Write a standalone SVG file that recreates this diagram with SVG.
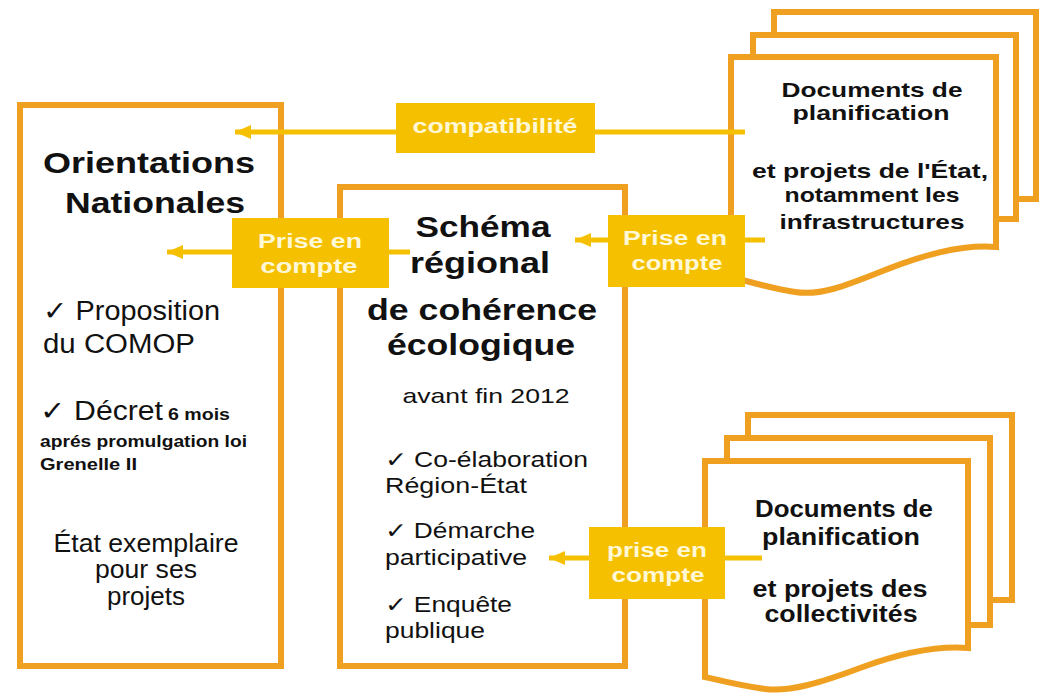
<svg xmlns="http://www.w3.org/2000/svg" width="1053" height="693" viewBox="0 0 1053 693">
<defs>
<style>
.box{fill:#ffffff;stroke:#F0A020;stroke-width:6}
.page{fill:#ffffff;stroke:#F0A020;stroke-width:6;stroke-linejoin:miter}
.conn{stroke:#F5C000;stroke-width:5;fill:none}
.lbl{fill:#F5C000}
.lt{font-family:"Liberation Sans",Arial,sans-serif;font-weight:bold;font-size:20px;fill:#FFF8D6;text-anchor:middle}
.t{font-family:"Liberation Sans",Arial,sans-serif;fill:#111111}
.b{font-weight:bold}
.m{text-anchor:middle}
</style>
<marker id="ah" markerUnits="userSpaceOnUse" markerWidth="18" markerHeight="14" refX="16" refY="7" orient="auto">
<path d="M0,0 L16,7 L0,14 Z" fill="#F5C000"/>
</marker>
</defs>
<rect width="1053" height="693" fill="#ffffff"/>

<g id="orientations">
<rect class="box" x="20" y="105" width="261" height="561"/>
<text class="t b m" x="149" y="173" font-size="30" textLength="212" lengthAdjust="spacingAndGlyphs">Orientations</text>
<text class="t b m" x="155" y="213" font-size="30" textLength="180" lengthAdjust="spacingAndGlyphs">Nationales</text>
<text class="t" x="43" y="320" font-size="27" textLength="177" lengthAdjust="spacingAndGlyphs">✓ Proposition</text>
<text class="t" x="43" y="353" font-size="27" textLength="152" lengthAdjust="spacingAndGlyphs">du COMOP</text>
<text class="t" x="40" y="420" font-size="27" textLength="123" lengthAdjust="spacingAndGlyphs">✓ Décret</text>
<text class="t b" x="168" y="420" font-size="17" textLength="62" lengthAdjust="spacingAndGlyphs">6 mois</text>
<text class="t b" x="40" y="447" font-size="17" textLength="207" lengthAdjust="spacingAndGlyphs">aprés promulgation loi</text>
<text class="t b" x="40" y="470" font-size="17" textLength="97" lengthAdjust="spacingAndGlyphs">Grenelle II</text>
<text class="t m" x="146" y="552" font-size="25" textLength="185" lengthAdjust="spacingAndGlyphs">État exemplaire</text>
<text class="t m" x="146" y="578" font-size="25" textLength="102" lengthAdjust="spacingAndGlyphs">pour ses</text>
<text class="t m" x="146" y="605" font-size="25" textLength="78" lengthAdjust="spacingAndGlyphs">projets</text>
</g>

<g id="srce">
<rect class="box" x="340" y="187" width="285" height="479"/>
<text class="t b m" x="483" y="237" font-size="30" textLength="135" lengthAdjust="spacingAndGlyphs">Schéma</text>
<text class="t b m" x="480" y="273" font-size="30" textLength="140" lengthAdjust="spacingAndGlyphs">régional</text>
<text class="t b m" x="482" y="320" font-size="30" textLength="230" lengthAdjust="spacingAndGlyphs">de cohérence</text>
<text class="t b m" x="481" y="355" font-size="30" textLength="188" lengthAdjust="spacingAndGlyphs">écologique</text>
<text class="t m" x="486" y="403" font-size="21" textLength="167" lengthAdjust="spacingAndGlyphs">avant fin 2012</text>
<text class="t" x="385" y="467" font-size="22" textLength="203" lengthAdjust="spacingAndGlyphs">✓ Co-élaboration</text>
<text class="t" x="385" y="493" font-size="22" textLength="142" lengthAdjust="spacingAndGlyphs">Région-État</text>
<text class="t" x="385" y="538" font-size="22" textLength="150" lengthAdjust="spacingAndGlyphs">✓ Démarche</text>
<text class="t" x="385" y="565" font-size="22" textLength="142" lengthAdjust="spacingAndGlyphs">participative</text>
<text class="t" x="385" y="612" font-size="22" textLength="127" lengthAdjust="spacingAndGlyphs">✓ Enquête</text>
<text class="t" x="385" y="638" font-size="22" textLength="100" lengthAdjust="spacingAndGlyphs">publique</text>
</g>

<g id="docs-etat">
<rect class="page" x="774" y="12" width="262" height="187"/>
<rect class="page" x="753" y="35" width="263" height="184"/>
<path class="page" d="M731,57 H996 V247 C960,244 920,256 880,272 C845,286 820,296 795,292 C770,288 750,282 731,277 Z"/>
<text class="t b m" x="872" y="97" font-size="21" textLength="181" lengthAdjust="spacingAndGlyphs">Documents de</text>
<text class="t b m" x="871" y="120" font-size="21" textLength="157" lengthAdjust="spacingAndGlyphs">planification</text>
<text class="t b m" x="870" y="178" font-size="21" textLength="236" lengthAdjust="spacingAndGlyphs">et projets de l'État,</text>
<text class="t b m" x="872" y="202" font-size="21" textLength="175" lengthAdjust="spacingAndGlyphs">notamment les</text>
<text class="t b m" x="872" y="229" font-size="21" textLength="185" lengthAdjust="spacingAndGlyphs">infrastructures</text>
</g>

<g id="docs-collectivites">
<rect class="page" x="748" y="415" width="264" height="185"/>
<rect class="page" x="727" y="438" width="263" height="187"/>
<path class="page" d="M705,461 H968 V648 C932,645 895,655 860,668 C820,683 790,692 765,689 C742,686 722,681 705,677 Z"/>
<text class="t b m" x="844" y="517" font-size="23" textLength="178" lengthAdjust="spacingAndGlyphs">Documents de</text>
<text class="t b m" x="841" y="545" font-size="23" textLength="158" lengthAdjust="spacingAndGlyphs">planification</text>
<text class="t b m" x="840" y="597" font-size="23" textLength="175" lengthAdjust="spacingAndGlyphs">et projets des</text>
<text class="t b m" x="841" y="622" font-size="23" textLength="153" lengthAdjust="spacingAndGlyphs">collectivités</text>
</g>

<g id="connectors">
<line class="conn" x1="745" y1="132" x2="235" y2="132" marker-end="url(#ah)"/>
<line class="conn" x1="410" y1="252" x2="167" y2="252" marker-end="url(#ah)"/>
<line class="conn" x1="765" y1="240" x2="575" y2="240" marker-end="url(#ah)"/>
<line class="conn" x1="762" y1="558" x2="549" y2="558" marker-end="url(#ah)"/>
</g>

<g id="label-compatibilite">
<rect class="lbl" x="396" y="103" width="199" height="50"/>
<text class="lt" x="495" y="133" textLength="165" lengthAdjust="spacingAndGlyphs">compatibilité</text>
</g>
<g id="label-prise-gauche">
<rect class="lbl" x="232" y="218" width="157" height="70"/>
<text class="lt" x="310" y="248" textLength="104" lengthAdjust="spacingAndGlyphs">Prise en</text>
<text class="lt" x="309" y="273" textLength="97" lengthAdjust="spacingAndGlyphs">compte</text>
</g>
<g id="label-prise-droite">
<rect class="lbl" x="608" y="215" width="137" height="72"/>
<text class="lt" x="675" y="245" textLength="104" lengthAdjust="spacingAndGlyphs">Prise en</text>
<text class="lt" x="677" y="270" textLength="91" lengthAdjust="spacingAndGlyphs">compte</text>
</g>
<g id="label-prise-bas">
<rect class="lbl" x="589" y="527" width="136" height="72"/>
<text class="lt" x="657" y="557" textLength="100" lengthAdjust="spacingAndGlyphs">prise en</text>
<text class="lt" x="658" y="582" textLength="93" lengthAdjust="spacingAndGlyphs">compte</text>
</g>
</svg>
